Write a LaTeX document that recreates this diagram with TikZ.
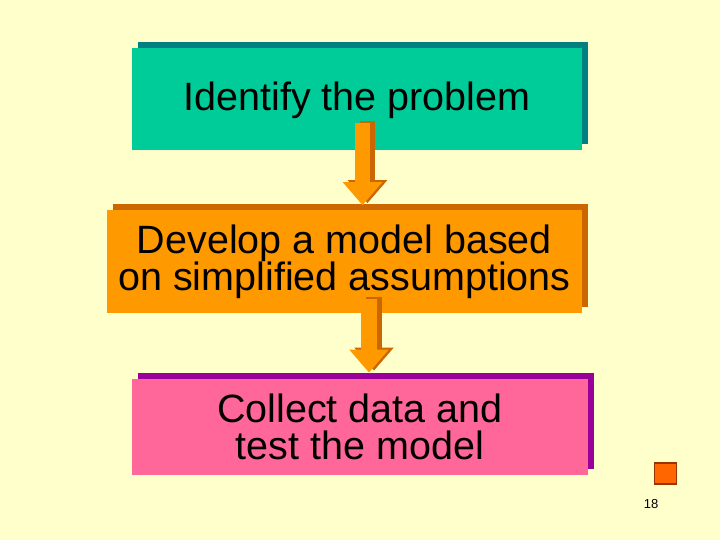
\documentclass[tikz,border=0pt]{standalone}
\usepackage{fontspec}
\setmainfont{Liberation Sans}
\usepackage{xcolor}
\usepackage{tikz}
\usetikzlibrary{shapes,arrows.meta,positioning,calc,shadows}

\definecolor{bgyellow}{HTML}{FFFFCC}
\definecolor{stepteal}{HTML}{00CC99}
\definecolor{stepteald}{HTML}{008080}
\definecolor{steporange}{HTML}{FF9900}
\definecolor{steporanged}{HTML}{CC6600}
\definecolor{steppink}{HTML}{FF6699}
\definecolor{steppinkd}{HTML}{990099}
\definecolor{bulletfill}{HTML}{FF6600}
\definecolor{bulletline}{HTML}{993300}

\begin{document}
\begin{tikzpicture}[
    x=1pt, y=-1pt,
    stepbox/.style={rectangle, inner sep=0pt, align=center, font=\fontsize{39.5}{37}\selectfont},
    shade/.style={drop shadow={shadow xshift=6pt, shadow yshift=6pt, fill=#1, opacity=1}},
    flowarrow/.style={line width=#1, -{Triangle[width=38pt, length=23pt]}}
]
    \fill[bgyellow] (0,0) rectangle (720,540);
    \useasboundingbox (0,0) rectangle (720,540);

    \node[stepbox, fill=stepteal, shade=stepteald, minimum width=450pt, minimum height=102pt,
          text depth=5pt] (identify) at (357,99) {%
        Identify the problem%
    };
    \node[stepbox, fill=steporange, shade=steporanged, minimum width=475pt, minimum height=103pt,
          below=60pt of identify, xshift=-12.5pt] (develop) {%
        Develop a model based\\
        on simplified assumptions%
    };
    \node[stepbox, fill=steppink, shade=steppinkd, minimum width=456pt, minimum height=96pt,
          below=65pt of develop, xshift=15.5pt] (collect) {%
        Collect data and\\
        test the model%
    };

    % block arrows with their shade
    \draw[flowarrow=15pt, steporanged, transform canvas={xshift=5pt, yshift=2pt}]
        ($(identify.south)+(5.5,-27)$) -- ($(identify.south)+(5.5,55)$);
    \draw[flowarrow=15pt, steporange]
        ($(identify.south)+(5.5,-27)$) -- ($(identify.south)+(5.5,55)$);
    \draw[flowarrow=16pt, steporanged, transform canvas={xshift=5pt, yshift=2pt}]
        ($(develop.south)+(24.5,-15)$) -- ($(develop.south)+(24.5,59)$);
    \draw[flowarrow=16pt, steporange]
        ($(develop.south)+(24.5,-15)$) -- ($(develop.south)+(24.5,59)$);

    \node[draw=bulletline, fill=bulletfill, line width=1.2pt, inner sep=0pt,
          minimum width=22pt, minimum height=21pt] (bullet) at (665.5,473.5) {};
    \node[font=\fontsize{13}{15}\selectfont, inner sep=0pt] (pagenum) at (651,504) {18};
\end{tikzpicture}
\end{document}
